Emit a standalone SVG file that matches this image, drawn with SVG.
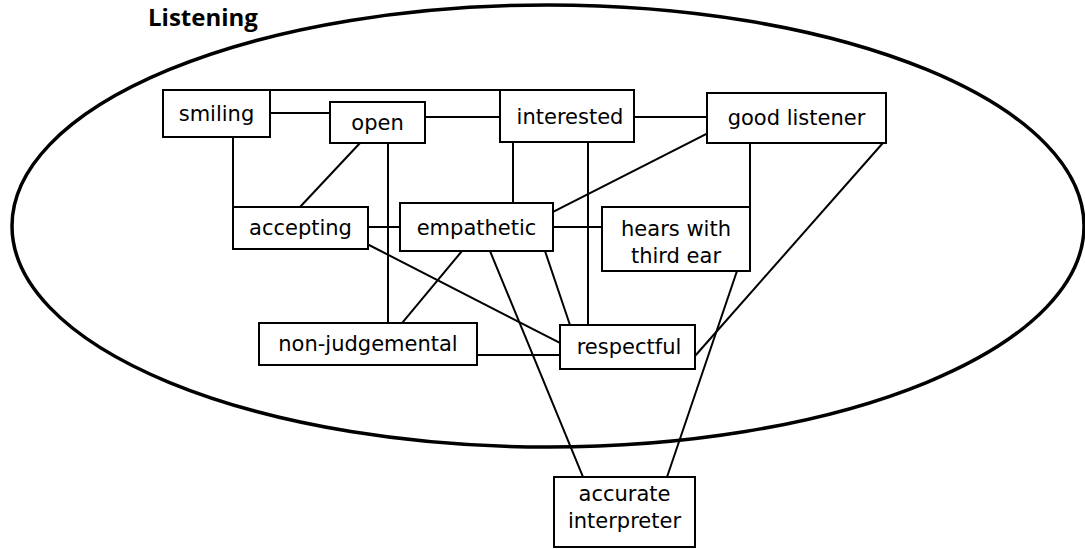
<svg xmlns="http://www.w3.org/2000/svg" width="1085" height="549" viewBox="0 0 1085 549">
<style>
.box{fill:#fff;stroke:#000;stroke-width:2}
.lbl{font-family:"DejaVu Sans",sans-serif;font-size:21px;fill:#000;text-anchor:middle}
.c line{stroke:#000;stroke-width:2;stroke-linecap:square}
.title{font-family:"Open Sans","DejaVu Sans",sans-serif;font-weight:bold;font-size:24px;fill:#000}
</style>
<rect width="1085" height="549" fill="#fff"/>
<text class="title" x="148" y="26">Listening</text>
<ellipse cx="548" cy="226" rx="536" ry="221" fill="none" stroke="#000" stroke-width="3.5"/>
<g class="c" id="connectors">
<line x1="270" y1="90" x2="500" y2="90"/>
<line x1="270" y1="113" x2="330" y2="113"/>
<line x1="425" y1="117" x2="500" y2="117"/>
<line x1="634" y1="117" x2="707" y2="117"/>
<line x1="233" y1="137" x2="233" y2="207"/>
<line x1="360" y1="143" x2="300" y2="207"/>
<line x1="388" y1="143" x2="388" y2="323"/>
<line x1="513" y1="142" x2="513" y2="203"/>
<line x1="588" y1="142" x2="588" y2="325"/>
<line x1="750" y1="143" x2="750" y2="207"/>
<line x1="708" y1="133" x2="553" y2="212"/>
<line x1="882" y1="144" x2="695" y2="356"/>
<line x1="368" y1="227" x2="400" y2="227"/>
<line x1="553" y1="227" x2="602" y2="227"/>
<line x1="369" y1="245" x2="560" y2="343"/>
<line x1="462" y1="251" x2="402" y2="323"/>
<line x1="545" y1="251" x2="570" y2="325"/>
<line x1="490" y1="251" x2="583" y2="477"/>
<line x1="737" y1="271" x2="667" y2="477"/>
<line x1="477" y1="355" x2="560" y2="355"/>
</g>
<g id="smiling"><rect class="box" x="163" y="90" width="107" height="47"/><text class="lbl" x="216.5" y="121">smiling</text></g>
<g id="open"><rect class="box" x="330" y="102" width="95" height="41"/><text class="lbl" x="377.5" y="130">open</text></g>
<g id="interested"><rect class="box" x="500" y="90" width="134" height="52"/><text class="lbl" x="570" y="124">interested</text></g>
<g id="good-listener"><rect class="box" x="707" y="93" width="179" height="50"/><text class="lbl" x="796.5" y="125">good listener</text></g>
<g id="accepting"><rect class="box" x="233" y="207" width="135" height="42"/><text class="lbl" x="300.5" y="235">accepting</text></g>
<g id="empathetic"><rect class="box" x="400" y="203" width="153" height="48"/><text class="lbl" x="476.5" y="235">empathetic</text></g>
<g id="hears-with-third-ear"><rect class="box" x="602" y="207" width="148" height="64"/><text class="lbl" x="676" y="236">hears with</text><text class="lbl" x="676" y="263">third ear</text></g>
<g id="non-judgemental"><rect class="box" x="259" y="323" width="218" height="42"/><text class="lbl" x="368" y="351">non-judgemental</text></g>
<g id="respectful"><rect class="box" x="560" y="325" width="135" height="44"/><text class="lbl" x="629" y="354">respectful</text></g>
<g id="accurate-interpreter"><rect class="box" x="554" y="477" width="141" height="70"/><text class="lbl" x="624.5" y="501">accurate</text><text class="lbl" x="624.5" y="528">interpreter</text></g>
</svg>
